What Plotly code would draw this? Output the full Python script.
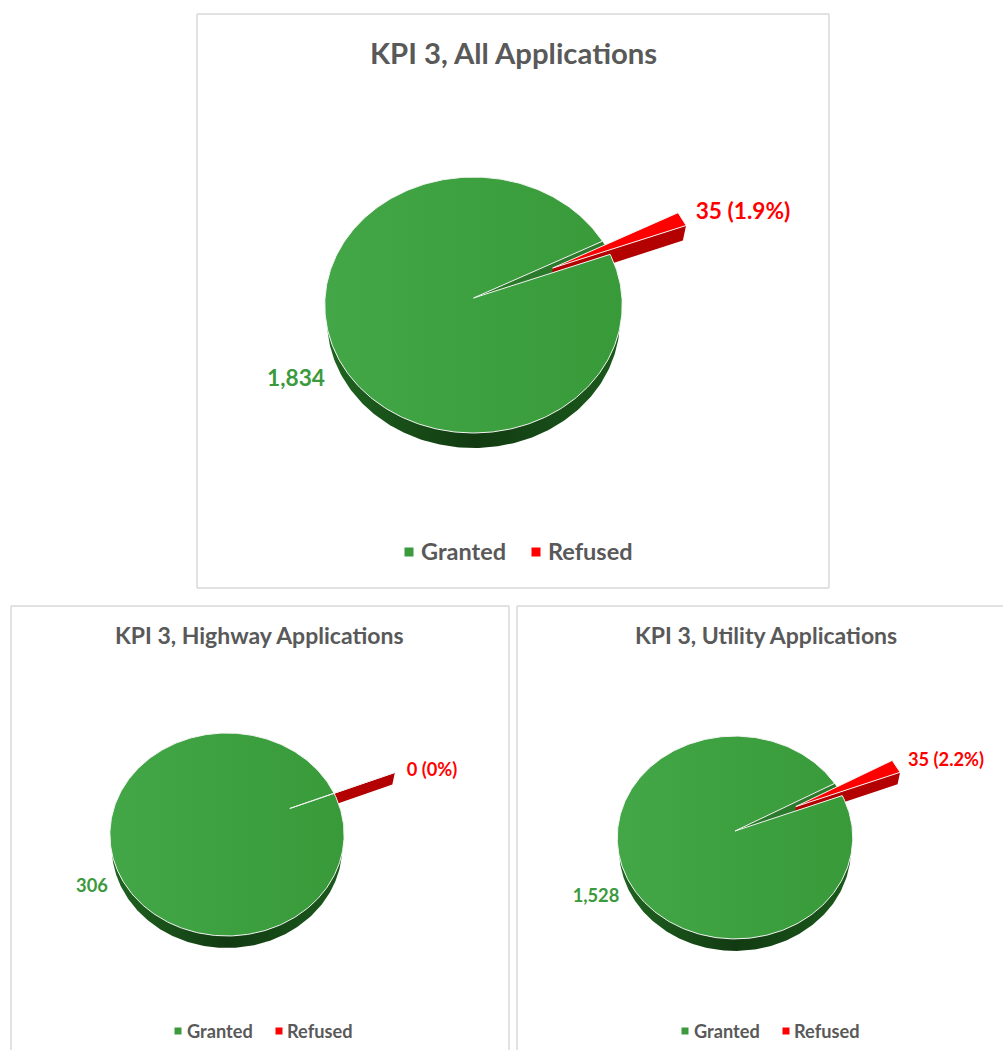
import numpy as np
import plotly.graph_objects as go

# ---- data ----
panel_titles = ["KPI 3, All Applications", "KPI 3, Highway Applications", "KPI 3, Utility Applications"]
categories = ["Granted", "Refused"]
granted = [1834, 306, 1528]
refused = [35, 0, 35]

# ---- layout / style (pixel geometry of the page) ----
W, H = 1003, 1050
GREEN_L, GREEN_R = "#43a747", "#389a39"
LABEL_GREEN, RED = "#3a9a3c", "#ff0000"
DARK_RED, WALL_GREEN = "#b30000", "#2b7a2b"
TEXT = "#595959"
BORDER = "#d9d9d9"
FONT = "Lato"

panels = [
    dict(box=(197, 14, 829, 588), c=(473.5, 298), rx=148.5, a=127.6, k=0.0547, d=15, bound=20.4, pull=0.59,
         title_xy=(513, 52), title_size=29.3, lab_size=22.7, leg_size=23.5, mk=9,
         lab_red=(743, 213), lab_green=(296, 380),
         leg=((409, 552), (536, 552)), leg_text=(421, 548)),
    dict(box=(11, 606, 509, 1050), c=(227, 830), rx=117, a=101.3, k=0.0443, d=12, bound=21.6, pull=0.583,
         title_xy=(259, 635), title_size=23, lab_size=18.3, leg_size=18.2, mk=7,
         lab_red=(432, 771), lab_green=(92, 887),
         leg=((178, 1031), (279, 1031)), leg_text=(187, 287)),
    dict(box=(517, 606, 1003, 1050), c=(735, 831), rx=117.5, a=101, k=0.064, d=12, bound=21.0, pull=0.58,
         title_xy=(766, 635), title_size=23, lab_size=18.3, leg_size=18.2, mk=7,
         lab_red=(946, 761), lab_green=(596, 897),
         leg=((685, 1031), (786, 1031)), leg_text=(694, 794)),
]


def project(p, u, v, depth=False):
    """Tilted-disc perspective: unit-disc coordinates to plotted units."""
    u, v = np.asarray(u, float), np.asarray(v, float)
    w = 1 + p["k"] * v
    x = p["rx"] * u / w
    y = p["a"] * v / w
    if depth:
        x, y = x * 0.985, y - p["d"]
    return x, y


def polar(r, deg):
    t = np.radians(deg)
    return r * np.cos(t), r * np.sin(t)


fig = go.Figure()
shapes, annotations = [], []


def add_poly(ax, x, y, name, fill=None, gradient=None, line="rgba(0,0,0,0)", lw=0):
    kw = dict(fillgradient=gradient) if gradient else dict(fillcolor=fill)
    fig.add_trace(go.Scatter(x=list(x), y=list(y), mode="lines", fill="toself", name=name,
                             line=dict(color=line, width=lw), showlegend=False,
                             xaxis=f"x{ax}", yaxis=f"y{ax}", hoverinfo="name", **kw))


for i, p in enumerate(panels):
    ax = i + 1
    g, r = granted[i], refused[i]
    total = g + r
    sweep = r / total * 360
    lo, hi = p["bound"], p["bound"] + sweep
    L, T, R, B = p["box"]
    cx, cy = p["c"]

    suffix = "" if ax == 1 else str(ax)
    common = dict(visible=False, fixedrange=True)
    fig.update_layout({
        f"xaxis{suffix}": dict(domain=[L / W, R / W], range=[L - cx, R - cx], anchor=f"y{suffix}", **common),
        f"yaxis{suffix}": dict(domain=[1 - B / H, 1 - T / H], range=[cy - B, cy - T], anchor=f"x{suffix}", **common),
    })

    # side wall of the whole pie
    ang = np.linspace(0, 360, 361)
    ux, uy = polar(1, ang)
    sx, sy = project(p, ux, uy, depth=True)
    add_poly(ax, sx, sy, "Granted", gradient=dict(type="horizontal",
             colorscale=[[0, "#1f6420"], [0.5, "#123a12"], [1, "#1b5a1c"]]))

    # opening left in the granted slice, showing its cut wall
    if r > 0:
        hu, hv = polar(1, hi)
        lu, lv = polar(1, lo)
        ox, oy = project(p, [0.0, hu, lu], [0.0, hv, lv])
        add_poly(ax, ox, oy, "Granted", fill=WALL_GREEN)

    # exploded refused slice: wall below its lower cut edge
    mid = (lo + hi) / 2
    pu, pv = polar(p["pull"], mid)
    ou, ov = pu + np.cos(np.radians(lo)), pv + np.sin(np.radians(lo))
    ax0, ay0 = project(p, [pu, ou], [pv, ov])
    ax1, ay1 = project(p, [ou, pu], [ov, pv], depth=True)
    add_poly(ax, [*ax0, *ax1], [*ay0, *ay1], "Refused", fill=DARK_RED)

    # top of the granted slice (no cut line at the centre when nothing is cut out)
    arc = np.linspace(hi, lo + 360, 361)
    au, av = polar(1, arc)
    if r > 0:
        au, av = np.r_[0, au, 0], np.r_[0, av, 0]
    tx, ty = project(p, au, av)
    add_poly(ax, tx, ty, "Granted", gradient=dict(type="horizontal",
             colorscale=[[0, GREEN_L], [1, GREEN_R]]), line="#f4f4f4", lw=1)

    # top of the refused slice
    arc = np.linspace(lo, hi, 12)
    ru, rv = pu + np.cos(np.radians(arc)), pv + np.sin(np.radians(arc))
    qx, qy = project(p, np.r_[pu, ru, pu], np.r_[pv, rv, pv])
    add_poly(ax, qx, qy, "Refused", fill=RED, line="#f4f4f4", lw=1)

    # data labels
    pct = r / total * 100
    red_text = f"{r} ({pct:.1f}%)" if r else f"{r} (0%)"
    for (lx, ly), txt, col, nm in ((p["lab_red"], red_text, RED, categories[1]),
                                   (p["lab_green"], f"{g:,}", LABEL_GREEN, categories[0])):
        fig.add_trace(go.Scatter(x=[lx - cx], y=[cy - ly], mode="text", text=[f"<b>{txt}</b>"], name=nm,
                                 textposition="middle center", showlegend=False, hoverinfo="skip",
                                 cliponaxis=False, textfont=dict(family=FONT, size=p["lab_size"], color=col),
                                 xaxis=f"x{ax}", yaxis=f"y{ax}"))

    # legend: swatch and its text
    for (mx, my), tx0, cat, col in zip(p["leg"], p["leg_text"], categories, (LABEL_GREEN, RED)):
        fig.add_trace(go.Scatter(x=[mx - cx], y=[cy - my], mode="markers", name=cat,
                                 showlegend=False, hoverinfo="name", cliponaxis=False,
                                 marker=dict(symbol="square", size=p["mk"], color=col),
                                 xaxis=f"x{ax}", yaxis=f"y{ax}"))
        fig.add_trace(go.Scatter(x=[tx0 - cx], y=[cy - my - 2], mode="text", text=[f"<b>{cat}</b>"], name=cat,
                                 textposition="middle right", showlegend=False, hoverinfo="skip", cliponaxis=False,
                                 textfont=dict(family=FONT, size=p["leg_size"], color=TEXT),
                                 xaxis=f"x{ax}", yaxis=f"y{ax}"))

    # title
    annotations.append(dict(xref="paper", yref="paper", x=p["title_xy"][0] / W, y=1 - p["title_xy"][1] / H,
                            text=f"<b>{panel_titles[i]}</b>", showarrow=False, xanchor="center", yanchor="middle",
                            font=dict(family=FONT, size=p["title_size"], color=TEXT)))

    # chart frame
    px = lambda v: v / W
    py = lambda v: 1 - v / H
    sides = [(L, T, R, T), (L, T, L, B)]
    if R < W:
        sides.append((R, T, R, B))
    if B < H:
        sides.append((L, B, R, B))
    for x0, y0, x1, y1 in sides:
        shapes.append(dict(type="line", xref="paper", yref="paper", x0=px(x0), y0=py(y0), x1=px(x1), y1=py(y1),
                           line=dict(color=BORDER, width=1.5), layer="below"))

fig.update_layout(width=W, height=H, margin=dict(l=0, r=0, t=0, b=0), paper_bgcolor="white", plot_bgcolor="white",
                  showlegend=False, shapes=shapes, annotations=annotations, hovermode="closest")

fig.write_html("out.html", config=dict(displayModeBar=False),
               post_script="document.body.style.margin='0';document.body.style.overflow='hidden';")
